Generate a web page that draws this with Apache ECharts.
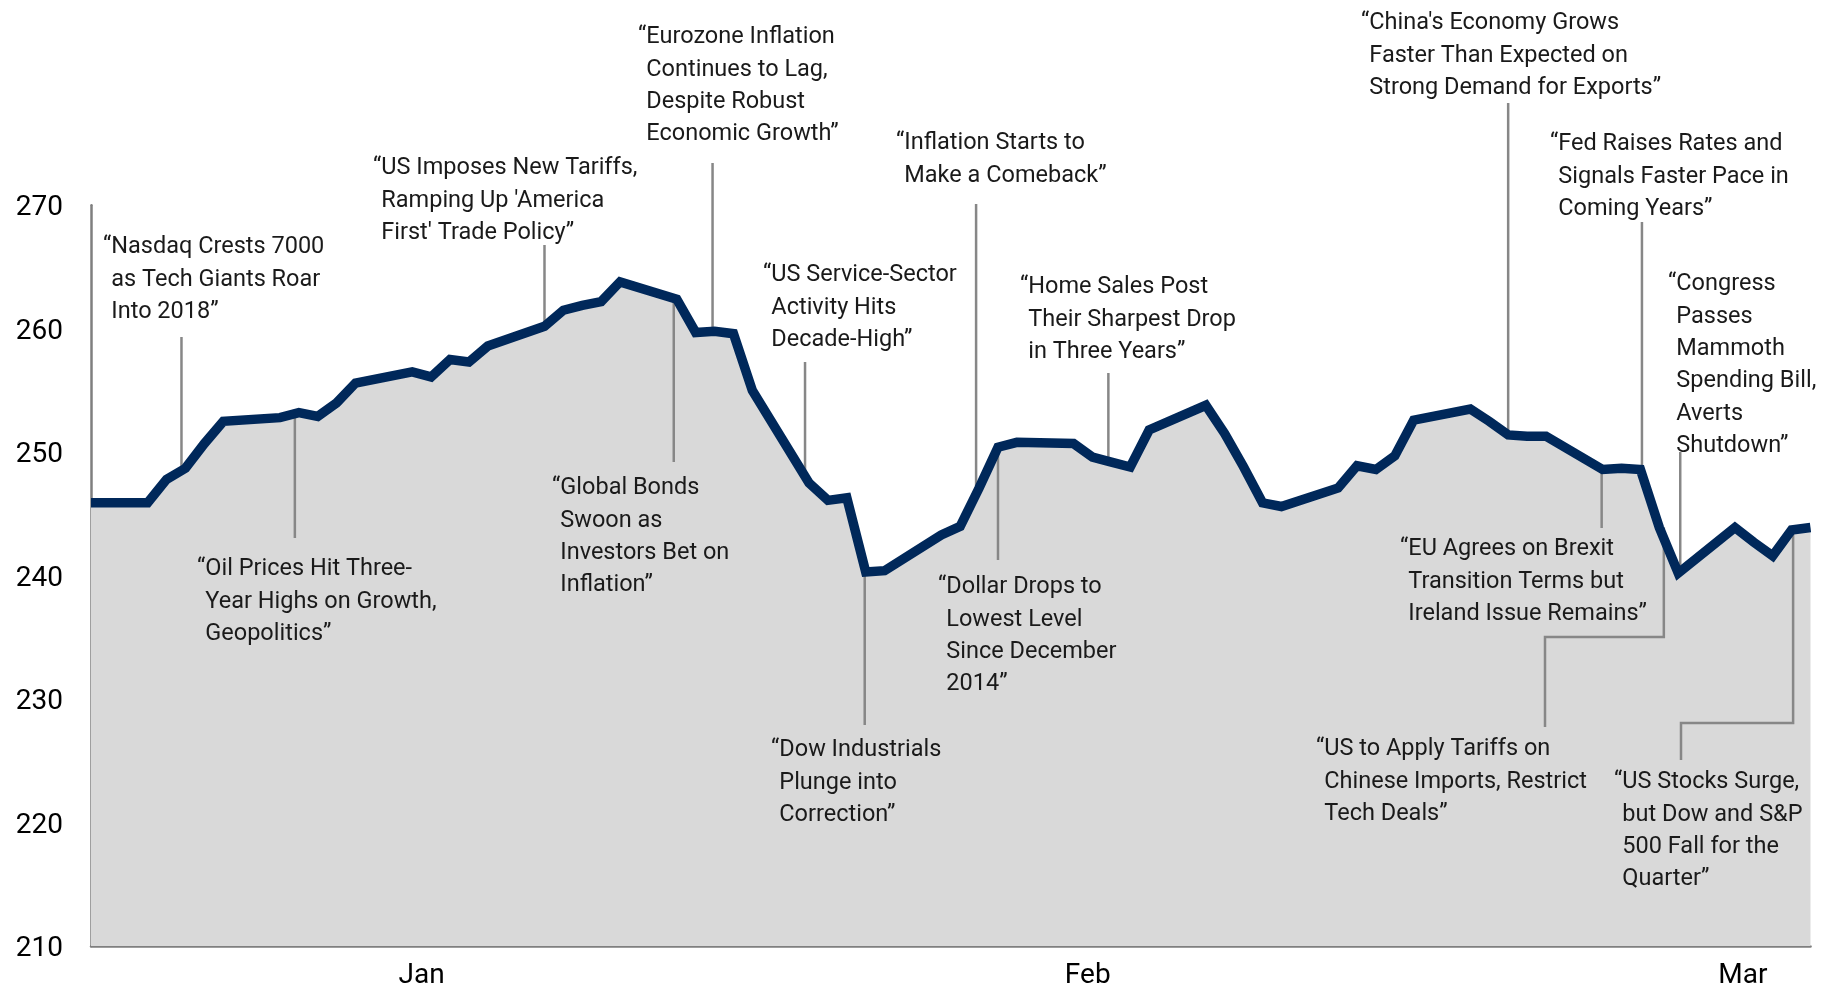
<!DOCTYPE html>
<html>
<head>
<meta charset="utf-8">
<script src="https://cdn.jsdelivr.net/npm/echarts@6/dist/echarts.min.js"></script>
<style>
  html, body { margin: 0; padding: 0; background: #ffffff; }
  #chart { width: 1829px; height: 990px; }
</style>
</head>
<body>
<div id="chart"></div>
<script>
// Daily closing level, Q1 2018
const dates = [
  '2017-12-29', '2018-01-01', '2018-01-02', '2018-01-03', '2018-01-04', '2018-01-05',
  '2018-01-08', '2018-01-09', '2018-01-10', '2018-01-11', '2018-01-12',
  '2018-01-15', '2018-01-16', '2018-01-17', '2018-01-18', '2018-01-19',
  '2018-01-22', '2018-01-23', '2018-01-24', '2018-01-25', '2018-01-26',
  '2018-01-29', '2018-01-30', '2018-01-31', '2018-02-01', '2018-02-02',
  '2018-02-05', '2018-02-06', '2018-02-07', '2018-02-08', '2018-02-09',
  '2018-02-12', '2018-02-13', '2018-02-14', '2018-02-15', '2018-02-16',
  '2018-02-19', '2018-02-20', '2018-02-21', '2018-02-22', '2018-02-23',
  '2018-02-26', '2018-02-27', '2018-02-28', '2018-03-01', '2018-03-02',
  '2018-03-05', '2018-03-06', '2018-03-07', '2018-03-08', '2018-03-09',
  '2018-03-12', '2018-03-13', '2018-03-14', '2018-03-15', '2018-03-16',
  '2018-03-19', '2018-03-20', '2018-03-21', '2018-03-22', '2018-03-23',
  '2018-03-26', '2018-03-27', '2018-03-28', '2018-03-29', '2018-03-30'
];
const values = [
  245.9, 245.9, 247.8, 248.7, 250.7, 252.5,
  252.8, 253.2, 252.9, 254.0, 255.6,
  256.5, 256.1, 257.5, 257.3, 258.6,
  260.2, 261.5, 261.9, 262.2, 263.8,
  262.4, 259.7, 259.8, 259.6, 255.0,
  247.5, 246.1, 246.3, 240.3, 240.4,
  243.3, 244.0, 247.1, 250.4, 250.8,
  250.7, 249.6, 249.2, 248.8, 251.8,
  253.8, 251.5, 248.8, 245.9, 245.6,
  247.1, 248.9, 248.6, 249.7, 252.6,
  253.5, 252.5, 251.4, 251.3, 251.3,
  248.6, 248.7, 248.6, 243.9, 240.2,
  243.9, 242.7, 241.6, 243.7, 243.9
];

// Month tick labels and where they sit along the date axis
const monthLabels = ['Jan', 'Feb', 'Mar'];
const monthTickTimes = ['2018-01-15 12:00', '2018-02-19 18:00', '2018-03-26 10:00'];

// Y axis scale
const yMin = 210, yMax = 270, yStep = 10;

// Headlines and the trading day each refers to
const headlineDates = [
  '2018-01-03', '2018-01-09', '2018-01-22', '2018-01-29', '2018-01-31', '2018-02-05',
  '2018-02-08', '2018-02-14', '2018-02-15', '2018-02-21', '2018-03-14', '2018-03-21',
  '2018-03-23', '2018-03-19', '2018-03-22', '2018-03-29'
];
const headlines = [
  '“Nasdaq Crests 7000\nas Tech Giants Roar\nInto 2018”',
  '“Oil Prices Hit Three-\nYear Highs on Growth,\nGeopolitics”',
  '“US Imposes New Tariffs,\nRamping Up \'America\nFirst\' Trade Policy”',
  '“Global Bonds\nSwoon as\nInvestors Bet on\nInflation”',
  '“Eurozone Inflation\nContinues to Lag,\nDespite Robust\nEconomic Growth”',
  '“US Service-Sector\nActivity Hits\nDecade-High”',
  '“Dow Industrials\nPlunge into\nCorrection”',
  '“Inflation Starts to\nMake a Comeback”',
  '“Dollar Drops to\nLowest Level\nSince December\n2014”',
  '“Home Sales Post\nTheir Sharpest Drop\nin Three Years”',
  '“China\'s Economy Grows\nFaster Than Expected on\nStrong Demand for Exports”',
  '“Fed Raises Rates and\nSignals Faster Pace in\nComing Years”',
  '“Congress\nPasses\nMammoth\nSpending Bill,\nAverts\nShutdown”',
  '“EU Agrees on Brexit\nTransition Terms but\nIreland Issue Remains”',
  '“US to Apply Tariffs on\nChinese Imports, Restrict\nTech Deals”',
  '“US Stocks Surge,\nbut Dow and S&P\n500 Fall for the\nQuarter”'
];

// Callout placement in page pixels: leader offset, leader end, optional elbow, text anchor
const calloutLayout = [
  { dx: -4,   end: 337, tx: 103,  ty: 247.5 },
  { dx: -4,   end: 538, tx: 197,  ty: 569.5 },
  { dx: 0,    end: 245, tx: 373,  ty: 168.5 },
  { dx: -3,   end: 462, tx: 552,  ty: 488.5 },
  { dx: -2,   end: 163, tx: 638,  ty: 37.5 },
  { dx: -4,   end: 362, tx: 763,  ty: 275.5 },
  { dx: -1,   end: 725, tx: 771,  ty: 750.5 },
  { dx: -3,   end: 204, tx: 896,  ty: 143.5 },
  { dx: 0,    end: 560, tx: 938,  ty: 587.5 },
  { dx: -3,   end: 373, tx: 1020, ty: 287.5 },
  { dx: 0,    end: 103, tx: 1361, ty: 23.5 },
  { dx: 1.5,  end: 222, tx: 1550, ty: 144.5 },
  { dx: 2,    end: 452, tx: 1668, ty: 284.5 },
  { dx: -1,   end: 528, tx: 1400, ty: 549.5 },
  { dx: 4.5,  end: 727, elbowY: 637, elbowX: 1545, tx: 1316, ty: 749.5 },
  { dx: 1.5,  end: 760, elbowY: 723, elbowX: 1681, tx: 1614, ty: 782.5 }
];

const FONT = 'Roboto, "Noto Sans", "DejaVu Sans", sans-serif';
const TEXT_SIZE = 23.5;
const LINE_GAP = 32.3;

function ts(s) {
  const parts = s.split(' ');
  const d = parts[0].split('-').map(Number);
  const t = (parts[1] || '0:0').split(':').map(Number);
  return new Date(d[0], d[1] - 1, d[2], t[0], t[1]).getTime();
}

const seriesData = dates.map((d, i) => [ts(d), values[i]]);
const tickTimes = monthTickTimes.map(ts);

const chart = echarts.init(document.getElementById('chart'), null, { renderer: 'canvas' });

chart.setOption({
  animation: false,
  backgroundColor: '#ffffff',
  grid: { left: 91, right: 18.5, top: 205.3, bottom: 34.7, containLabel: false },
  xAxis: {
    // timestamps on a linear scale so calendar gaps (weekends) keep their width
    type: 'value',
    min: ts(dates[0]),
    max: ts(dates[dates.length - 1]),
    axisLine: { show: true, onZero: false, lineStyle: { color: '#7f7f7f', width: 2.5 } },
    axisTick: { show: false },
    splitLine: { show: false },
    axisLabel: {
      customValues: tickTimes,
      margin: 12,
      formatter: function (value) {
        let best = 0;
        for (let i = 1; i < tickTimes.length; i++) {
          if (Math.abs(tickTimes[i] - value) < Math.abs(tickTimes[best] - value)) best = i;
        }
        return '{m|' + monthLabels[best] + '}';
      },
      rich: {
        m: { color: '#000000', fontSize: 28, fontFamily: FONT, padding: [4, 0, 0, 0] }
      }
    }
  },
  yAxis: {
    type: 'value',
    min: yMin,
    max: yMax,
    interval: yStep,
    axisLine: { show: true, lineStyle: { color: '#7f7f7f', width: 2.5 } },
    axisTick: { show: false },
    splitLine: { show: false },
    axisLabel: {
      margin: 28,
      formatter: function (value) { return '{v|' + value + '}'; },
      rich: {
        v: { color: '#000000', fontSize: 28, fontFamily: FONT, padding: [6, 0, 0, 0] }
      }
    }
  },
  series: [
    {
      name: 'area',
      type: 'line',
      data: seriesData,
      z: 1,
      showSymbol: false,
      silent: true,
      lineStyle: { width: 0, opacity: 0 },
      areaStyle: { color: '#d9d9d9', opacity: 1, origin: 'start' }
    },
    {
      name: 'level',
      type: 'line',
      data: seriesData,
      z: 10,
      showSymbol: false,
      clip: false,
      lineStyle: { color: '#00285a', width: 9.5, join: 'miter', cap: 'butt' }
    }
  ]
});

// Callouts: leader lines from the series point, then the headline text
const measure = document.createElement('canvas').getContext('2d');
measure.font = TEXT_SIZE + 'px ' + FONT;
const quoteIndent = measure.measureText('“').width;

const graphics = [];
headlineDates.forEach((d, i) => {
  const L = calloutLayout[i];
  const v = values[dates.indexOf(d)];
  const p = chart.convertToPixel({ gridIndex: 0 }, [ts(d), v]);
  const x = p[0] + L.dx;
  let pts;
  if (L.elbowY !== undefined) {
    pts = [[x, p[1]], [x, L.elbowY], [L.elbowX, L.elbowY], [L.elbowX, L.end]];
  } else {
    pts = [[x, p[1]], [x, L.end]];
  }
  graphics.push({
    type: 'polyline',
    z: 5,
    silent: true,
    shape: { points: pts },
    style: { stroke: '#878787', lineWidth: 2.5, fill: null }
  });
  headlines[i].split('\n').forEach((line, k) => {
    graphics.push({
      type: 'text',
      z: 6,
      silent: true,
      x: L.tx + (k === 0 ? 0 : quoteIndent),
      y: L.ty + k * LINE_GAP,
      style: {
        text: line,
        fontSize: TEXT_SIZE,
        fontFamily: FONT,
        fill: '#1a1a1a',
        align: 'left',
        verticalAlign: 'middle'
      }
    });
  });
});

chart.setOption({ graphic: graphics });
</script>
</body>
</html>
